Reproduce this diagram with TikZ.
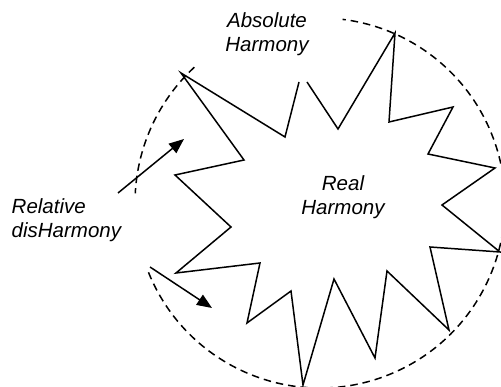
\documentclass[tikz,border=0pt]{standalone}
\usepackage{fontspec}
\setmainfont{Liberation Sans}
\usetikzlibrary{arrows.meta}
\begin{document}
\begin{tikzpicture}[
x=1pt, y=-1pt,
line width=1.5pt,
edge/.style={dash pattern=on 7.5pt off 5pt},
push/.style={-{Triangle[length=15pt,width=12pt]}},
label/.style={font=\fontsize{20.5}{24}\selectfont\itshape, align=center, inner sep=0pt}
]
\clip (0,0) rectangle (501,387);
% outer circle
\draw[edge] (320,203) ++(-132.8:185) arc[start angle=-132.8, end angle=-177, radius=185];
\draw[edge] (320,203) ++(-202:185) arc[start angle=-202, end angle=-443, radius=185];
% star
\draw[line join=miter] (307,82) -- (338,129) -- (395,33) -- (389,122) -- (453,107)
-- (428,154) -- (495,168) -- (442,205) -- (500,252) -- (430,247)
-- (449,330) -- (387,271) -- (375,358) -- (334,279) -- (303,385)
-- (291,291) -- (247,323) -- (260,263) -- (176,273) -- (231,227)
-- (175,175) -- (244,160) -- (181,73) -- (285,137) -- (299,82);
% arrows
\coordinate (in1) at (118,193);
\coordinate (out1) at (184,139);
\coordinate (in2) at (150,267);
\coordinate (out2) at (212,308);
\draw[push] (in1) -- (out1);
\draw[push] (in2) -- (out2);
% texts
\node[label] (absolute) at (267,34) {Absolute\\Harmony};
\node[label] (real) at (343,197) {Real\\Harmony};
\node[label, align=left, anchor=west] (relative) at (11,220) {Relative\\disHarmony};
\end{tikzpicture}
\end{document}
